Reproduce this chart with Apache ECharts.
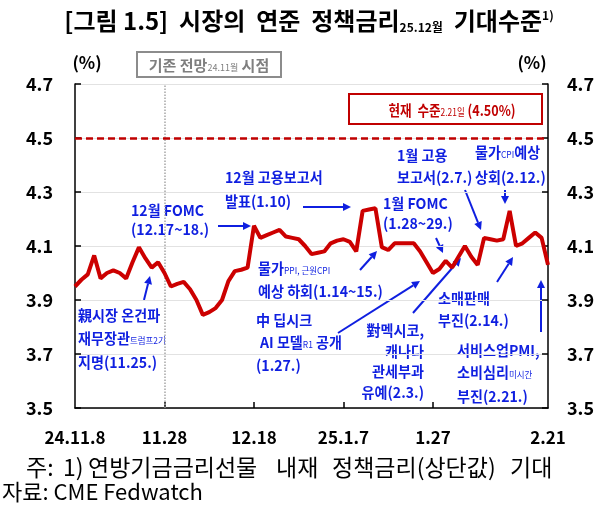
<!DOCTYPE html>
<html>
<head>
<meta charset="utf-8">
<script src="https://cdn.jsdelivr.net/npm/echarts@6/dist/echarts.min.js"></script>
<style>
  html, body { margin: 0; padding: 0; background: #fff; }
  #chart { width: 604px; height: 508px; }
</style>
</head>
<body>
<div id="chart"></div>
<script>
// 영업일 기준 날짜 (24.11.8 ~ 25.2.21)
const dates = [
  '11.8', '11.11', '11.12', '11.13', '11.14', '11.15', '11.18', '11.19', '11.20', '11.21', '11.22',
  '11.25', '11.26', '11.27', '11.28', '11.29', '12.2', '12.3', '12.4', '12.5', '12.6',
  '12.9', '12.10', '12.11', '12.12', '12.13', '12.16', '12.17', '12.18', '12.19', '12.20',
  '12.23', '12.24', '12.25', '12.26', '12.27', '12.30', '12.31', '1.1', '1.2', '1.3',
  '1.6', '1.7', '1.8', '1.9', '1.10', '1.13', '1.14', '1.15', '1.16', '1.17',
  '1.20', '1.21', '1.22', '1.23', '1.24', '1.27', '1.28', '1.29', '1.30', '1.31',
  '2.3', '2.4', '2.5', '2.6', '2.7', '2.10', '2.11', '2.12', '2.13', '2.14',
  '2.18', '2.19', '2.20', '2.21'
]
// 25.12월 정책금리 기대수준 (%)
const rates = [
  3.95, 3.975, 3.995, 4.065, 3.98, 4.0, 4.01, 4.0, 3.98, 4.04, 4.095,
  4.055, 4.02, 4.04, 4.0, 3.95, 3.96, 3.967, 3.94, 3.9, 3.845,
  3.855, 3.87, 3.9, 3.97, 4.007, 4.012, 4.02, 4.175, 4.13, 4.14,
  4.15, 4.16, 4.135, 4.13, 4.125, 4.1, 4.07, 4.075, 4.08, 4.11,
  4.12, 4.125, 4.115, 4.08, 4.23, 4.235, 4.24, 4.096, 4.085, 4.11,
  4.11, 4.11, 4.11, 4.08, 4.04, 4.0, 4.015, 4.045, 4.02, 4.06,
  4.1, 4.06, 4.03, 4.13, 4.125, 4.12, 4.125, 4.23, 4.1, 4.11,
  4.13, 4.15, 4.13, 4.03
]
const labelDates = ['11.8', '11.28', '12.18', '1.7', '1.27', '2.21']
const labelText = ['24.11.8', '11.28', '12.18', '25.1.7', '1.27', '2.21']
const tickDates = ['11.28', '12.18', '1.7', '1.27']
const yTicks = ['3.5', '3.7', '3.9', '4.1', '4.3', '4.5', '4.7']
const currentLevel = 4.5
const baseDate = '11.28'

const FONT = '"Noto Sans CJK KR", "Noto Sans", sans-serif'
const BLUE = '#0f1fe0'
const RED = '#cc0000'
const DARKRED = '#c00000'

const rich = {
  b: { fontFamily: FONT, fontSize: 15, fontWeight: 'bold', fill: BLUE },
  s: { fontFamily: FONT, fontSize: 9, fill: BLUE, verticalAlign: 'bottom', padding: [4, 0, 0, 0] }
}

// 주석 텍스트 한 줄 (원본처럼 약간 좁게)
function note(x, y, str, align) {
  return {
    type: 'text', x: x, y: y, scaleX: 0.94, silent: true,
    style: {
      text: str.replace(/^([^{]+)/, '{b|$1}').replace(/\}([^{}]+)(?=\{|$)/g, '}{b|$1}'),
      rich: rich, textAlign: align || 'left', textVerticalAlign: 'middle'
    }
  }
}

// 화살표
function arrow(x1, y1, x2, y2) {
  const a = Math.atan2(y2 - y1, x2 - x1)
  const L = 8, W = 4
  const bx = x2 - L * Math.cos(a), by = y2 - L * Math.sin(a)
  return [
    { type: 'line', silent: true, shape: { x1: x1, y1: y1, x2: bx, y2: by }, style: { stroke: BLUE, lineWidth: 2 } },
    {
      type: 'polygon', silent: true,
      shape: { points: [[x2, y2], [bx + W * Math.sin(a), by - W * Math.cos(a)], [bx - W * Math.sin(a), by + W * Math.cos(a)]] },
      style: { fill: BLUE }
    }
  ]
}

// 각주 첫 줄은 단어 간격이 넓음
const footWords = [['주:', 26], ['1)', 63], ['연방기금금리선물', 88], ['내재', 276], ['정책금리(상단값)', 332], ['기대', 510]]
const footer = footWords.map(([w, x]) => ({
  type: 'text', x: x, y: 467, silent: true,
  style: { text: w, font: '23px ' + FONT, fill: '#000', textVerticalAlign: 'middle' }
}))

const graphics = [
  // 제목
  {
    type: 'text', x: 309, y: 21, silent: true,
    style: {
      text: '{t|[그림 1.5]  시장의  연준  정책금리}{ts|25.12월}{t|  기대수준}{tp|1)}',
      textAlign: 'center', textVerticalAlign: 'middle',
      rich: {
        t: { fontFamily: FONT, fontSize: 24, fontWeight: 'bold', fill: '#000' },
        ts: { fontFamily: FONT, fontSize: 12, fontWeight: 'bold', fill: '#000', verticalAlign: 'bottom', padding: [10, 0, 0, 0] },
        tp: { fontFamily: FONT, fontSize: 12, fontWeight: 'bold', fill: '#000', verticalAlign: 'top', padding: [0, 0, 10, 0] }
      }
    }
  },
  { type: 'text', x: 87, y: 63, silent: true, style: { text: '(%)', font: 'bold 17px ' + FONT, fill: '#000', textAlign: 'center', textVerticalAlign: 'middle' } },
  { type: 'text', x: 532, y: 63, silent: true, style: { text: '(%)', font: 'bold 17px ' + FONT, fill: '#000', textAlign: 'center', textVerticalAlign: 'middle' } },
  // 기존 전망 시점 박스
  { type: 'rect', silent: true, shape: { x: 137, y: 52, width: 144, height: 25 }, style: { fill: '#fff', stroke: '#8c8c8c', lineWidth: 2 } },
  {
    type: 'text', x: 209, y: 65, silent: true,
    style: {
      text: '{g|기존 전망}{gs|24.11월}{g| 시점}', textAlign: 'center', textVerticalAlign: 'middle',
      rich: {
        g: { fontFamily: FONT, fontSize: 15, fontWeight: 'bold', fill: '#7f7f7f' },
        gs: { fontFamily: FONT, fontSize: 9, fill: '#7f7f7f', verticalAlign: 'bottom', padding: [4, 0, 0, 0] }
      }
    }
  },
  // 현재 수준 박스
  { type: 'rect', silent: true, shape: { x: 349, y: 94, width: 193, height: 30 }, style: { fill: '#fff', stroke: DARKRED, lineWidth: 2 } },
  {
    type: 'text', x: 452, y: 110, scaleX: 0.84, silent: true,
    style: {
      text: '{r|현재  수준}{rs|2.21일}{r| (4.50%)}', textAlign: 'center', textVerticalAlign: 'middle',
      rich: {
        r: { fontFamily: FONT, fontSize: 15, fontWeight: 'bold', fill: DARKRED },
        rs: { fontFamily: FONT, fontSize: 10, fill: DARKRED, verticalAlign: 'bottom', padding: [4, 0, 0, 0] }
      }
    }
  },
  // 주석
  note(131, 210, '12월 FOMC'), note(131, 229, '(12.17~18.)'),
  note(225, 177, '12월 고용보고서'), note(225, 201, '발표(1.10)'),
  note(383, 203, '1월 FOMC'), note(383, 223, '(1.28~29.)'),
  note(397, 155, '1월 고용'), note(397, 177, '보고서(2.7.)'),
  note(475, 152, '물가{s|CPI}예상'), note(475, 177, '상회(2.12.)'),
  note(258, 268, '물가{s|PPI, 근원CPI}'), note(258, 291, '예상 하회(1.14~15.)'),
  note(78, 315, '親시장 온건파'), note(78, 338, '재무장관{s|트럼프2기}'), note(78, 362, '지명(11.25.)'),
  note(256, 320, '中 딥시크'), note(260, 342, 'AI 모델{s|R1} 공개'), note(256, 365, '(1.27.)'),
  note(424, 330, '對멕시코,', 'right'), note(424, 351, '캐나다', 'right'), note(424, 371, '관세부과', 'right'), note(424, 392, '유예(2.3.)', 'right'),
  note(438, 298, '소매판매'), note(438, 320, '부진(2.14.)'),
  note(457, 350, '서비스업PMI,'), note(457, 372, '소비심리{s|미시간}'), note(457, 396, '부진(2.21.)'),
  ...arrow(218, 226, 251, 226),
  ...arrow(303, 207, 351, 207),
  ...arrow(436, 238, 443, 253),
  ...arrow(465, 190, 481, 230),
  ...arrow(505, 190, 505, 204),
  ...arrow(360, 270, 377, 251),
  ...arrow(144, 300, 150, 276),
  ...arrow(338, 333, 420, 281),
  ...arrow(413, 313, 461, 258),
  ...arrow(497, 282, 513, 257),
  ...arrow(541, 332, 541, 280),
  // 출처
  ...footer,
  { type: 'text', x: 2, y: 492, silent: true, style: { text: '자료: CME Fedwatch', font: '22px ' + FONT, fill: '#000', textVerticalAlign: 'middle' } }
]

const yAxisBase = {
  type: 'value', min: 3.5, max: 4.7, interval: 0.2,
  axisLine: { show: true, lineStyle: { color: '#000', width: 1.5 } },
  axisTick: { show: true, inside: true, length: 6, lineStyle: { color: '#000', width: 1.5 } },
  axisLabel: {
    fontFamily: FONT, fontSize: 18, fontWeight: 'bold', color: '#000',
    formatter: (v) => yTicks.includes(v.toFixed(1)) ? v.toFixed(1) : ''
  }
}

const chart = echarts.init(document.getElementById('chart'))
chart.setOption({
  animation: false,
  backgroundColor: '#fff',
  grid: { left: 75, right: 56, top: 84, bottom: 100, containLabel: false, outerBoundsMode: 'none' },
  xAxis: {
    type: 'category', data: dates, boundaryGap: false,
    axisLine: { lineStyle: { color: '#000', width: 1.5 } },
    axisTick: { inside: true, length: 6, interval: (i, v) => tickDates.includes(v), lineStyle: { color: '#000', width: 1.5 } },
    axisLabel: {
      interval: (i, v) => labelDates.includes(v), margin: 21,
      fontFamily: FONT, fontSize: 17, fontWeight: 'bold', color: '#000',
      formatter: (v) => labelText[labelDates.indexOf(v)]
    },
    splitLine: { show: false }
  },
  yAxis: [
    Object.assign({}, yAxisBase, {
      position: 'left',
      axisLabel: Object.assign({}, yAxisBase.axisLabel, { margin: 22 }),
      splitLine: { show: true, lineStyle: { color: '#e2e2e2', width: 1 } }
    }),
    Object.assign({}, yAxisBase, {
      position: 'right',
      axisLabel: Object.assign({}, yAxisBase.axisLabel, { margin: 19 }),
      splitLine: { show: false }
    })
  ],
  series: [{
    type: 'line', data: rates, yAxisIndex: 0,
    symbol: 'none', z: 5,
    lineStyle: { color: RED, width: 4 },
    markLine: {
      silent: true, symbol: 'none', label: { show: false },
      data: [
        { xAxis: baseDate, lineStyle: { color: '#a6a6a6', type: 'dotted', width: 1.5 } },
        { yAxis: currentLevel, lineStyle: { color: DARKRED, type: [7, 4], width: 2.5 } }
      ]
    }
  }],
  graphic: graphics
})
</script>
</body>
</html>
